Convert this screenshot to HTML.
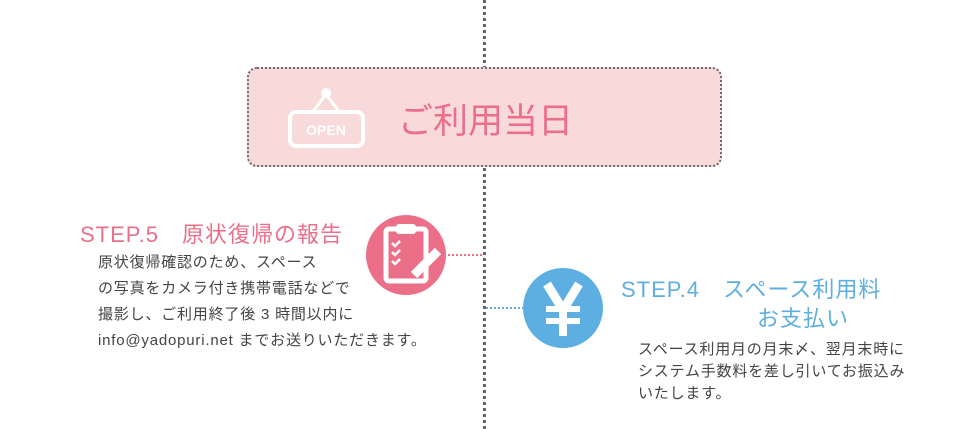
<!DOCTYPE html>
<html><head><meta charset="utf-8"><style>
body{margin:0;width:970px;height:429px;background:#fff;position:relative;overflow:hidden;font-family:"Liberation Sans","Noto Sans CJK JP",sans-serif}
.a{position:absolute;white-space:nowrap}
.vl{position:absolute;left:483px;top:0;width:0;height:429px;border-left:3px dotted #666}
.box{position:absolute;left:247px;top:67px;width:471px;height:96px;background:#f9dada;border:2px dotted #6d6d6d;border-radius:10px}
.h{color:#ec6f8a;font-size:22px;letter-spacing:1px}
.b{color:#444;font-size:15px;line-height:26px;letter-spacing:0.8px}
</style></head><body>
<div class="vl"></div>
<div class="box"></div>
<svg class="a" style="left:285px;top:85px" width="82" height="68" viewBox="0 0 82 68">
<circle cx="41" cy="8" r="5" fill="#fff"/>
<path d="M41 9 L27 28 M41 9 L55 28" stroke="#fff" stroke-width="3" fill="none"/>
<rect x="5" y="27" width="73" height="34" rx="6" fill="none" stroke="#fff" stroke-width="4"/>
<text x="41" y="50" font-size="14" font-weight="bold" fill="#fff" text-anchor="middle" font-family="Liberation Sans">OPEN</text>
</svg>
<div class="a" style="left:398px;top:93px;font-size:35px;color:#ec6f8a">ご利用当日</div>

<div class="a h" style="left:80px;top:217px">STEP.5　原状復帰の報告</div>
<div class="a b" style="left:98px;top:250px">原状復帰確認のため、スペース<br>の写真をカメラ付き携帯電話などで<br>撮影し、ご利用終了後 3 時間以内に<br>info@yadopuri.net までお送りいただきます。</div>

<svg class="a" style="left:366px;top:215px" width="120" height="82">
<circle cx="40" cy="40" r="40" fill="#ec6f8a"/>
<rect x="20" y="14" width="40" height="52" rx="3" fill="none" stroke="#fff" stroke-width="5"/>
<rect x="30" y="9" width="20" height="10" rx="3" fill="#fff"/>
<path d="M26 28l3 3 5-5M26 37l3 3 5-5M26 46l3 3 5-5" stroke="#fff" stroke-width="2.5" fill="none"/>
<path d="M48 60 L72 36" stroke="#fff" stroke-width="9"/>
<line x1="82" y1="40" x2="117" y2="40" stroke="#ec6f8a" stroke-width="2" stroke-dasharray="2,2"/>
</svg>

<svg class="a" style="left:484px;top:268px" width="120" height="82">
<line x1="2" y1="40" x2="40" y2="40" stroke="#5dafe2" stroke-width="2" stroke-dasharray="2,2"/>
<circle cx="79" cy="40" r="40" fill="#5dafe2"/>
<path d="M63 16 L79 42 L95 16" stroke="#fff" stroke-width="9" fill="none"/>
<rect x="62" y="38" width="34" height="6" fill="#fff"/>
<rect x="62" y="50" width="34" height="6" fill="#fff"/>
<rect x="75" y="40" width="8" height="28" fill="#fff"/>
</svg>

<div class="a h" style="left:621px;top:272px;color:#5dafe2">STEP.4　スペース利用料</div>
<div class="a h" style="left:757px;top:301px;color:#5dafe2">お支払い</div>
<div class="a b" style="left:638px;top:339px;line-height:22px">スペース利用月の月末〆、翌月末時に<br>システム手数料を差し引いてお振込み<br>いたします。</div>
</body></html>
